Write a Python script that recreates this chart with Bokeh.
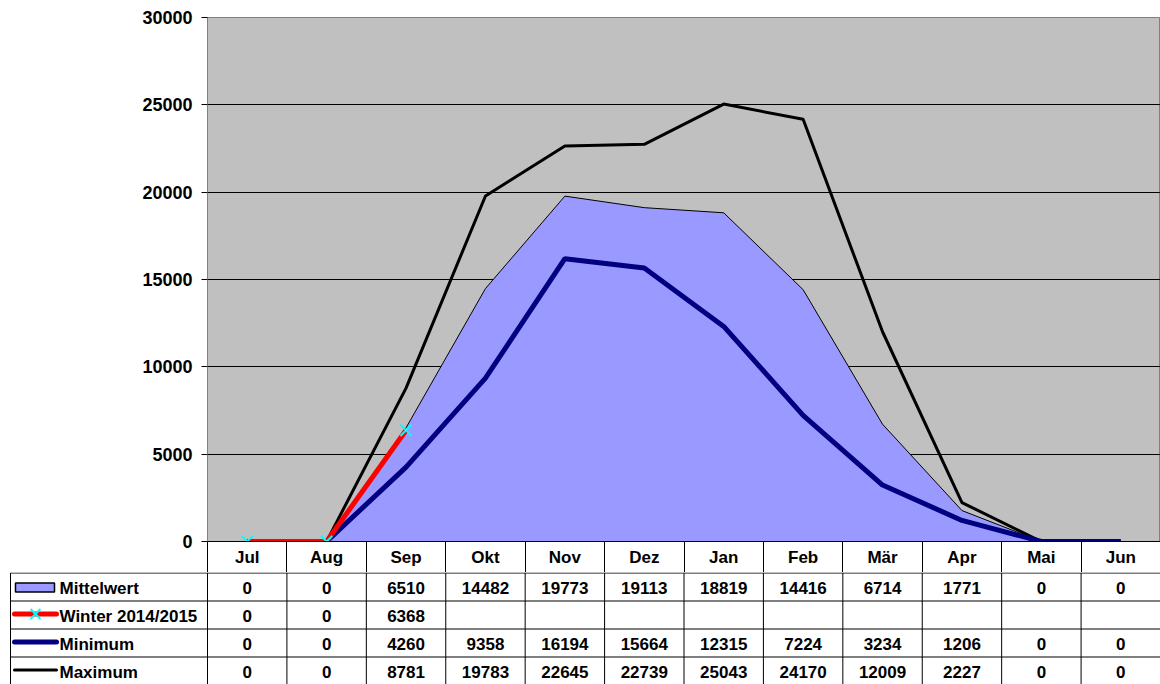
from bokeh.plotting import figure
from bokeh.models import Range1d, FixedTicker, NumeralTickFormatter, ColumnDataSource
from bokeh.layouts import column
from bokeh.embed import file_html
from bokeh.resources import INLINE
from bokeh.core.properties import value

# ---------------- data ----------------
months = ["Jul", "Aug", "Sep", "Okt", "Nov", "Dez", "Jan", "Feb", "Mär", "Apr", "Mai", "Jun"]
mittelwert = [0, 0, 6510, 14482, 19773, 19113, 18819, 14416, 6714, 1771, 0, 0]
winter = [0, 0, 6368]
minimum = [0, 0, 4260, 9358, 16194, 15664, 12315, 7224, 3234, 1206, 0, 0]
maximum = [0, 0, 8781, 19783, 22645, 22739, 25043, 24170, 12009, 2227, 0, 0]
series_names = ["Mittelwert", "Winter 2014/2015", "Minimum", "Maximum"]
y_ticks = [0, 5000, 10000, 15000, 20000, 25000, 30000]

# ---------------- layout constants ----------------
FONT = "Liberation Sans"
W = 1160
PLOT_LEFT = 207
TOP = 17
FRAME_H = 524
HEADER_H = 31
ROW_H = 28
TABLE_H = 112

BG = "#C0C0C0"
AREA = "#9999FF"
NAVY = "#000080"
RED = "#FF0000"
CYAN = "#00FFFF"

n = len(months)
centers = [i + 0.5 for i in range(n)]
bounds = list(range(n + 1))

# ---------------- chart ----------------
p = figure(width=W, height=TOP + FRAME_H + HEADER_H,
           x_range=Range1d(0, n), y_range=Range1d(0, 30000),
           output_backend="svg", toolbar_location=None, title=None,
           min_border_left=PLOT_LEFT, min_border_right=0,
           min_border_top=TOP, min_border_bottom=HEADER_H)
p.frame_align = False
p.background_fill_color = BG
p.border_fill_color = "white"
p.outline_line_color = "#808080"
p.outline_line_width = 1

p.xgrid.visible = False
p.ygrid.ticker = FixedTicker(ticks=y_ticks[1:-1])
p.ygrid.grid_line_color = "black"
p.ygrid.grid_line_width = 1

xa = p.xaxis[0]
xa.ticker = FixedTicker(ticks=centers, minor_ticks=bounds)
xa.major_label_overrides = {c: m for c, m in zip(centers, months)}
xa.major_tick_out = 0
xa.major_tick_in = 0
xa.major_tick_line_color = None
xa.minor_tick_out = HEADER_H
xa.minor_tick_in = 0
xa.minor_tick_line_color = "black"
xa.axis_line_color = "black"
xa.major_label_standoff = 6 - HEADER_H
xa.major_label_text_font = FONT
xa.major_label_text_font_style = "bold"
xa.major_label_text_font_size = "17px"
xa.major_label_text_color = "black"

ya = p.yaxis[0]
ya.ticker = FixedTicker(ticks=y_ticks)
ya.formatter = NumeralTickFormatter(format="0")
ya.axis_line_color = "#808080"
ya.major_tick_line_color = "black"
ya.major_tick_out = 6
ya.major_tick_in = 0
ya.minor_tick_line_color = None
ya.major_label_standoff = 9
ya.major_label_text_font = FONT
ya.major_label_text_font_style = "bold"
ya.major_label_text_font_size = "18px"
ya.major_label_text_color = "black"

p.varea(x=centers, y1=[0] * n, y2=mittelwert, fill_color=AREA, fill_alpha=1)
p.line(centers, mittelwert, line_color="black", line_width=1)
p.line(centers, maximum, line_color="black", line_width=3)
p.line(centers, minimum, line_color=NAVY, line_width=5)
p.line(centers[:len(winter)], winter, line_color=RED, line_width=5)
p.scatter(centers[:len(winter)], winter, marker="x", size=16,
          line_color=CYAN, line_width=2)

# ---------------- data table ----------------
u = (W - PLOT_LEFT) / n          # pixels per month column


def px(off):
    """x position of a pixel offset measured from the chart's left edge"""
    return off / u


t = figure(width=W, height=TABLE_H,
           x_range=Range1d(px(-PLOT_LEFT), n), y_range=Range1d(TABLE_H - 0.5, -0.5),
           output_backend="svg", toolbar_location=None, title=None,
           x_axis_location=None, y_axis_location=None,
           min_border=0, min_border_left=0, min_border_right=0,
           min_border_top=0, min_border_bottom=0)
t.frame_align = False
t.xgrid.visible = False
t.ygrid.visible = False
t.outline_line_color = None
t.background_fill_color = "white"
t.border_fill_color = "white"

leg_left = px(-(PLOT_LEFT - 10))
n_rows = len(series_names)
row_tops = [r * ROW_H for r in range(n_rows)]
table_bottom = n_rows * ROW_H

# horizontal rules
hy = row_tops + [table_bottom]
t.segment(x0=[leg_left] * len(hy), y0=hy, x1=[n] * len(hy), y1=hy,
          line_color="black", line_width=1)
# vertical rules
vx = [leg_left] + bounds
t.segment(x0=vx, y0=[0] * len(vx), x1=vx, y1=[table_bottom] * len(vx),
          line_color="black", line_width=1)

# cell values
table_series = [mittelwert, winter, minimum, maximum]
cx, cy, ct = [], [], []
for r, vals in enumerate(table_series):
    for i, v in enumerate(vals):
        cx.append(centers[i])
        cy.append(row_tops[r] + 15)
        ct.append(str(v))
t.text(x="x", y="y", text="text", source=ColumnDataSource(dict(x=cx, y=cy, text=ct)),
       text_font=value(FONT), text_font_style="bold", text_font_size="17px",
       text_align="center", text_baseline="middle", text_color="black")

# legend labels
lx = [px(-(PLOT_LEFT - 59))] * n_rows
ly = [rt + 15 for rt in row_tops]
t.text(x=lx, y=ly, text=series_names,
       text_font=value(FONT), text_font_style="bold", text_font_size="17px",
       text_align="left", text_baseline="middle", text_color="black")

# legend keys
k0 = px(-(PLOT_LEFT - 14))
k1 = px(-(PLOT_LEFT - 56))
kc = px(-(PLOT_LEFT - 35))
t.quad(left=[px(-(PLOT_LEFT - 15))], right=[px(-(PLOT_LEFT - 54))],
       top=[row_tops[0] + 10], bottom=[row_tops[0] + 19],
       fill_color=AREA, line_color="black", line_width=1.5)
t.line([k0, k1], [row_tops[1] + 13] * 2, line_color=RED, line_width=5, line_cap="round")
t.scatter([kc], [row_tops[1] + 13], marker="x", size=14, line_color=CYAN, line_width=2)
t.line([k0, k1], [row_tops[2] + 13] * 2, line_color=NAVY, line_width=5, line_cap="round")
t.line([k0, k1], [row_tops[3] + 13] * 2, line_color="black", line_width=3, line_cap="round")

layout = column(p, t, spacing=0)
open("out.html", "w").write(file_html(layout, INLINE))
